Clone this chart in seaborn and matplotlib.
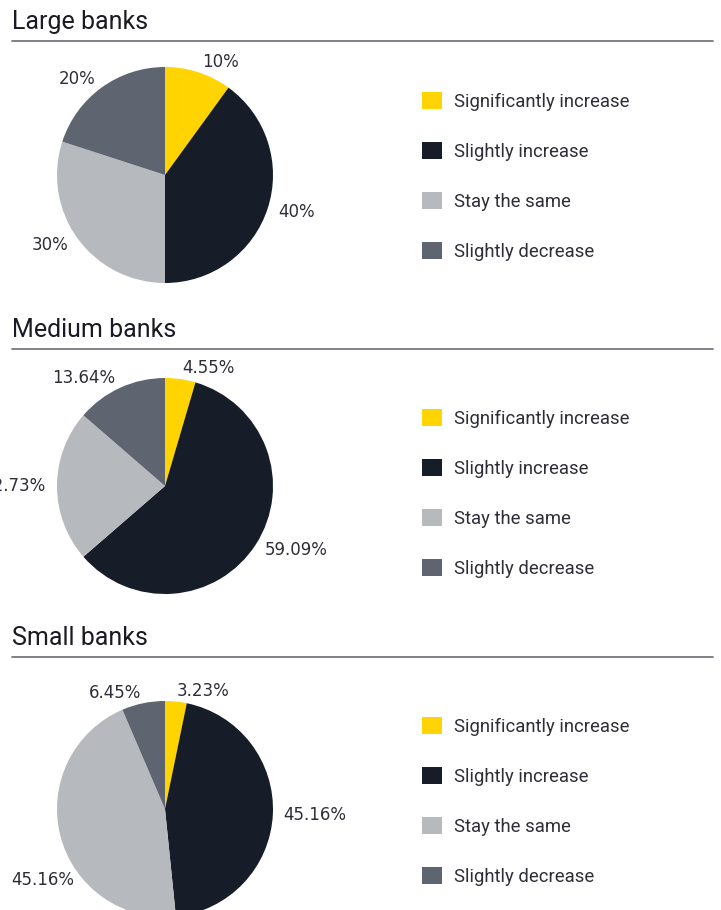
import matplotlib
matplotlib.use("Agg")
import matplotlib.pyplot as plt
from matplotlib.patches import Patch
from matplotlib.lines import Line2D
import seaborn as sns

sns.set_theme(style="white")
plt.rcParams['font.family'] = ['DejaVu Sans']

# data
categories = ["Significantly increase", "Slightly increase", "Stay the same", "Slightly decrease"]
panel_titles = ["Large banks", "Medium banks", "Small banks"]
large_banks = [10, 40, 30, 20]
medium_banks = [4.55, 59.09, 22.73, 13.64]
small_banks = [3.23, 45.16, 45.16, 6.45]
pct_labels = [
    ["10%", "40%", "30%", "20%"],
    ["4.55%", "59.09%", "22.73%", "13.64%"],
    ["3.23%", "45.16%", "45.16%", "6.45%"],
]
colors = sns.color_palette(["#FFD400", "#161D29", "#B6B9BD", "#5E6570"])

W, H = 721, 910
fig = plt.figure(figsize=(W / 100, H / 100), dpi=100)
fig.patch.set_facecolor("white")

# layout of each panel in pixels (title baseline, rule, pie centre, first legend row)
title_y = [29, 337, 645]
rule_y = [41, 349, 657]
pie_cy = [175, 486, 809]
leg_y = [103, 420, 728]
pie_cx, radius = 165, 108

text_col = "#2E2E38"

for i, values in enumerate([large_banks, medium_banks, small_banks]):
    fig.text(12 / W, 1 - title_y[i] / H, panel_titles[i], fontsize=18,
             family="Roboto", color="#1A1A24", va="baseline", ha="left")
    fig.add_artist(Line2D([12 / W, 713 / W], [1 - rule_y[i] / H] * 2,
                          color="#74777E", lw=1.3, transform=fig.transFigure))

    ax = fig.add_axes([(pie_cx - radius) / W, 1 - (pie_cy[i] + radius) / H,
                       2 * radius / W, 2 * radius / H])
    wedges, texts = ax.pie(values, colors=colors, startangle=90, counterclock=False,
                           labels=pct_labels[i], labeldistance=1.1,
                           wedgeprops=dict(linewidth=0),
                           textprops=dict(fontsize=12, color=text_col))
    ax.set_xlim(-1, 1)
    ax.set_ylim(-1, 1)
    ax.set_aspect("equal")
    for t in texts:
        t.set_clip_on(False)
    if i == 2:
        # the lower-left label sits further down in the original
        texts[2].set_position((-1.42, -0.66))
        texts[2].set_ha("left")

    handles = [Patch(facecolor=c, edgecolor="none") for c in colors]
    fig.legend(handles, categories, loc="upper left",
               bbox_to_anchor=(422 / W, 1 - (leg_y[i] - 11) / H),
               frameon=False, prop=dict(family="Roboto", size=13.3),
               handlelength=1.08, handleheight=1.08, handletextpad=0.65,
               labelspacing=1.67, labelcolor=text_col, borderpad=0, borderaxespad=0)

fig.savefig("out.png", dpi=100, facecolor="white")
